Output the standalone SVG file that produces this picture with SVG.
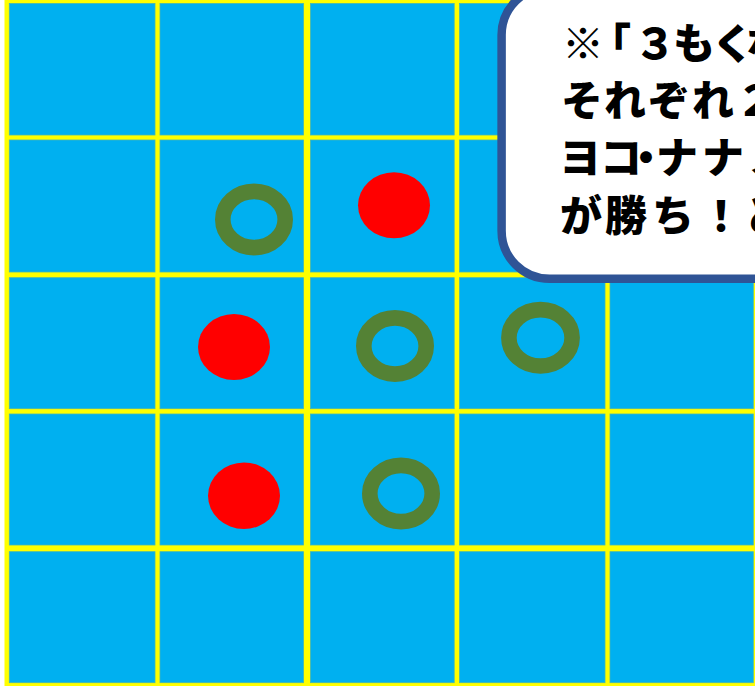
<svg xmlns="http://www.w3.org/2000/svg" width="755" height="686" viewBox="0 0 755 686">
<style>
.cell{fill:#00B0F0;stroke:#45B6B4;stroke-width:0.8}
.red{fill:#FF0000}
.ring{fill:none;stroke:#548235;stroke-width:15.6}
.msg{font-family:"Noto Sans CJK JP","Noto Sans CJK SC",sans-serif;font-weight:900;font-size:42px;fill:#000}
</style>
<rect width="755" height="686" fill="#FFFFFF"/>
<g id="board">
<rect x="4.5" y="0" width="751" height="686" fill="#FFFF00"/>
<g id="row0">
<rect class="cell" x="9.3" y="3.5" width="145.7" height="131.5"/>
<rect class="cell" x="160" y="3.5" width="143.5" height="131.5"/>
<rect class="cell" x="310.5" y="3.5" width="143.7" height="131.5"/>
<rect class="cell" x="459.5" y="3.5" width="145.5" height="131.5"/>
<rect class="cell" x="610" y="3.5" width="143.3" height="131.5"/>
</g>
<g id="row1">
<rect class="cell" x="9.3" y="140" width="145.7" height="132"/>
<rect class="cell" x="160" y="140" width="143.5" height="132"/>
<rect class="cell" x="310.5" y="140" width="143.7" height="132"/>
<rect class="cell" x="459.5" y="140" width="145.5" height="132"/>
<rect class="cell" x="610" y="140" width="143.3" height="132"/>
</g>
<g id="row2">
<rect class="cell" x="9.3" y="277.7" width="145.7" height="131"/>
<rect class="cell" x="160" y="277.7" width="143.5" height="131"/>
<rect class="cell" x="310.5" y="277.7" width="143.7" height="131"/>
<rect class="cell" x="459.5" y="277.7" width="145.5" height="131"/>
<rect class="cell" x="610" y="277.7" width="143.3" height="131"/>
</g>
<g id="row3">
<rect class="cell" x="9.3" y="414" width="145.7" height="131"/>
<rect class="cell" x="160" y="414" width="143.5" height="131"/>
<rect class="cell" x="310.5" y="414" width="143.7" height="131"/>
<rect class="cell" x="459.5" y="414" width="145.5" height="131"/>
<rect class="cell" x="610" y="414" width="143.3" height="131"/>
</g>
<g id="row4">
<rect class="cell" x="9.3" y="551.7" width="145.7" height="131"/>
<rect class="cell" x="160" y="551.7" width="143.5" height="131"/>
<rect class="cell" x="310.5" y="551.7" width="143.7" height="131"/>
<rect class="cell" x="459.5" y="551.7" width="145.5" height="131"/>
<rect class="cell" x="610" y="551.7" width="143.3" height="131"/>
</g>
</g>
<g id="pieces">
<g id="ring1"><ellipse class="ring" cx="254" cy="219.5" rx="31.2" ry="28.1"/></g>
<g id="red1"><ellipse class="red" cx="394" cy="205.3" rx="36" ry="33"/></g>
<g id="red2"><ellipse class="red" cx="234" cy="347" rx="36" ry="33"/></g>
<g id="ring2"><ellipse class="ring" cx="395" cy="346" rx="31.2" ry="28.1"/></g>
<g id="ring4"><ellipse class="ring" cx="540.5" cy="337.8" rx="31.6" ry="28.2"/></g>
<g id="red3"><ellipse class="red" cx="244" cy="495.7" rx="36" ry="33.3"/></g>
<g id="ring3"><ellipse class="ring" cx="401" cy="493.5" rx="31.2" ry="28.1"/></g>
</g>
<g id="bubble">
<rect x="501.6" y="-13" width="320" height="291.8" rx="48" ry="48" fill="#FFFFFF" stroke="#2F5496" stroke-width="8.5"/>
<text class="msg" x="562 589 634 673 712 746" y="59">※「３もくな</text>
<text class="msg" x="561 604 648 692 736" y="116">それぞれ２</text>
<text class="msg" x="559 600 625 656 702 748" y="173">ヨコ・ナナメ</text>
<text class="msg" x="560 605 652 700 744" y="231">が勝ち！と</text>
</g>
</svg>
